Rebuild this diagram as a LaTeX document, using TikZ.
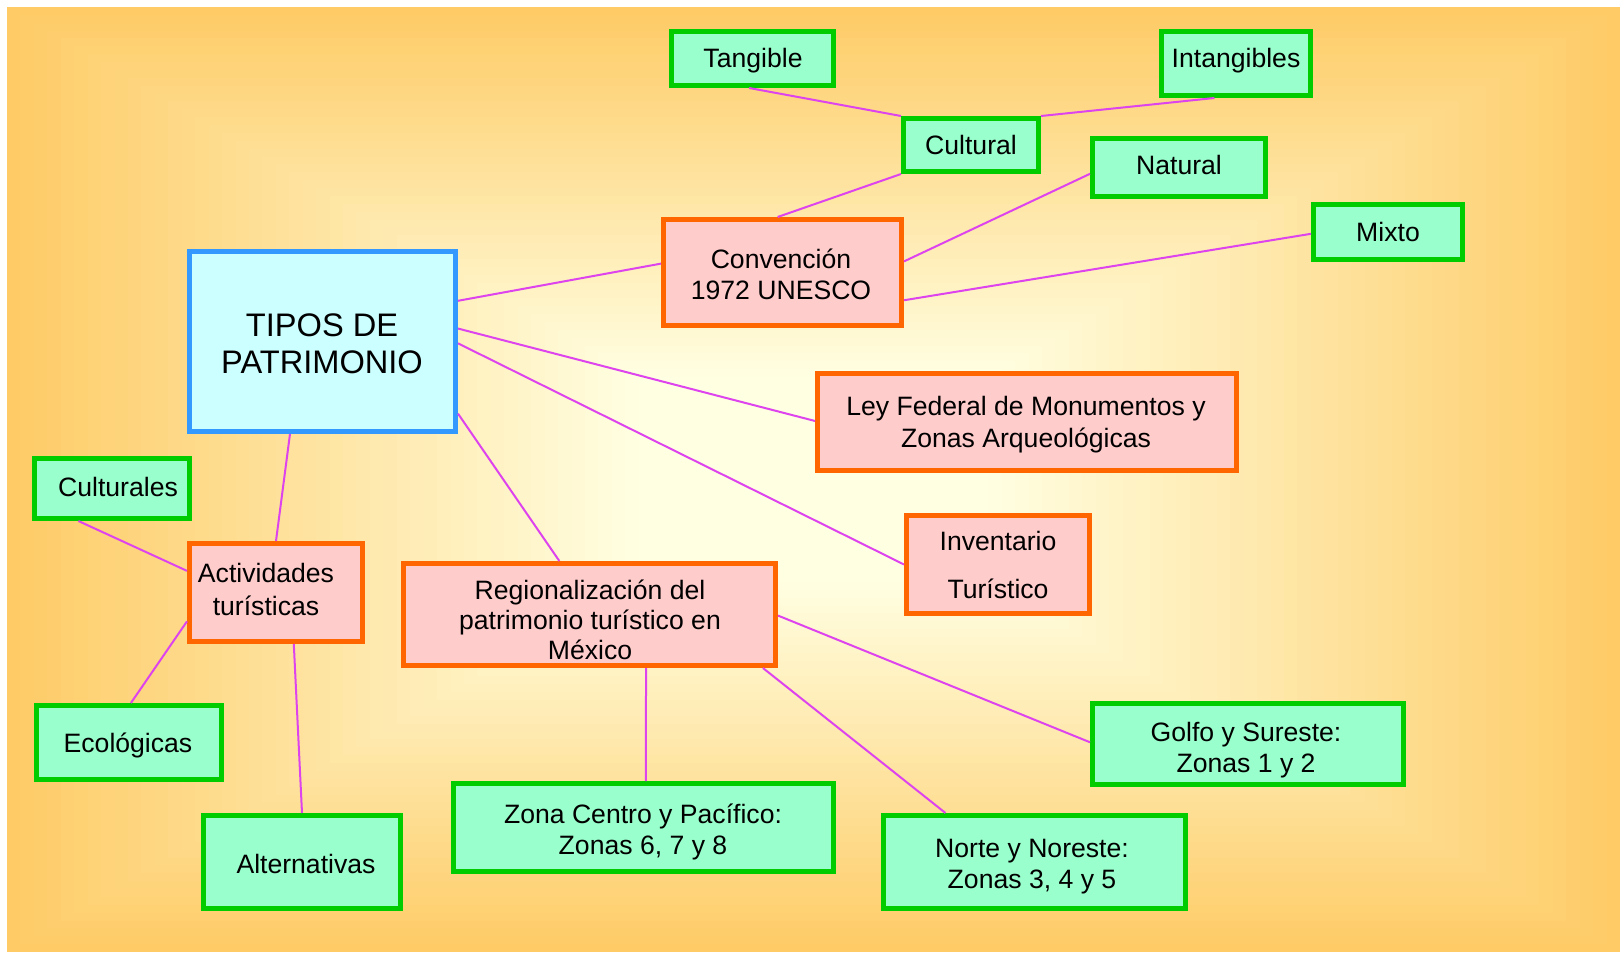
\documentclass[tikz,border=0pt]{standalone}
\usepackage{fontspec}
\setmainfont{Liberation Sans}
\usetikzlibrary{calc,fit}
\definecolor{bgorange}{HTML}{FECB66}
\definecolor{bgcream}{HTML}{FFFFE2}
\definecolor{gborder}{HTML}{00CC00}
\definecolor{gfill}{HTML}{99FFCC}
\definecolor{oborder}{HTML}{FF6600}
\definecolor{ofill}{HTML}{FFCCCC}
\definecolor{bborder}{HTML}{3399FF}
\definecolor{bfill}{HTML}{CCFFFF}
\definecolor{linkc}{RGB}{221,68,238}
\tikzset{
  greenbox/.style={draw=gborder,fill=gfill,line width=2.5pt,inner sep=0pt,rectangle},
  orangebox/.style={draw=oborder,fill=ofill,line width=2.5pt,inner sep=0pt,rectangle},
  bluebox/.style={draw=bborder,fill=bfill,line width=2.5pt,inner sep=0pt,rectangle},
  txt/.style={inner sep=0pt,align=center,font=\fontsize{13.3}{15.5}\selectfont,text=black},
  link/.style={draw=linkc,line width=1pt}
}
\begin{document}
\begin{tikzpicture}[x=0.5pt,y=-0.5pt]
\useasboundingbox (0,0) rectangle (1620,952);
% background gradient (rectangular, from centre)
\fill[white] (0,0) rectangle (1620,952);
\foreach \i in {0,...,59}{
  \pgfmathsetmacro\s{1-\i/60}
  \pgfmathsetmacro\p{max(0,min(100,(\s-0.22)/0.78*100))}
  \fill[bgorange!\p!bgcream] ({813.5-806.5*\s},{479.5-472.5*\s}) rectangle ({813.5+806.5*\s},{479.5+472.5*\s});
}
% boxes (outer edges inset by half the border)
\node[greenbox,fit={(671.5,31.5)(833.5,85.5)}] (tang) {};
\node[greenbox,fit={(1161.5,31.5)(1310.5,95.5)}] (intang) {};
\node[greenbox,fit={(903.5,118.5)(1038.5,171.5)}] (cult) {};
\node[greenbox,fit={(1092.5,138.5)(1265.5,196.5)}] (nat) {};
\node[greenbox,fit={(1313.5,204.5)(1462.5,259.5)}] (mixto) {};
\node[orangebox,fit={(663.5,219.5)(901.5,325.5)}] (conv) {};
\node[bluebox,fit={(189.5,251.5)(455.5,431.5)}] (tipos) {};
\node[orangebox,fit={(817.5,373.5)(1236.5,470.5)}] (ley) {};
\node[orangebox,fit={(906.5,515.5)(1089.5,613.5)}] (inv) {};
\node[greenbox,fit={(34.5,458.5)(189.5,518.5)}] (culturales) {};
\node[orangebox,fit={(189.5,543.5)(362.5,641.5)}] (activ) {};
\node[orangebox,fit={(403.5,563.5)(775.5,665.5)}] (region) {};
\node[greenbox,fit={(36.5,705.5)(221.5,779.5)}] (ecol) {};
\node[greenbox,fit={(203.5,815.5)(400.5,908.5)}] (altern) {};
\node[greenbox,fit={(453.5,783.5)(833.5,871.5)}] (zona) {};
\node[greenbox,fit={(883.5,815.5)(1185.5,908.5)}] (norte) {};
\node[greenbox,fit={(1092.5,703.5)(1403.5,784.5)}] (golfo) {};
% connectors
\draw[link] ($(tang.south west)!0.48!(tang.south east)$) -- (cult.north west);
\draw[link] ($(intang.south west)!0.36!(intang.south east)$) -- (cult.north east);
\draw[link] (cult.south west) -- ($(conv.north west)!0.48!(conv.north east)$);
\draw[link] ($(nat.north west)!0.6!(nat.south west)$) -- ($(conv.north east)!0.4!(conv.south east)$);
\draw[link] ($(mixto.north west)!0.53!(mixto.south west)$) -- ($(conv.north east)!0.75!(conv.south east)$);
\draw[link] ($(tipos.north east)!0.28!(tipos.south east)$) -- ($(conv.north west)!0.42!(conv.south west)$);
\draw[link] ($(tipos.north east)!0.43!(tipos.south east)$) -- ($(ley.north west)!0.49!(ley.south west)$);
\draw[link] ($(tipos.north east)!0.51!(tipos.south east)$) -- ($(inv.north west)!0.5!(inv.south west)$);
\draw[link] ($(tipos.north east)!0.89!(tipos.south east)$) -- ($(region.north west)!0.42!(region.north east)$);
\draw[link] ($(tipos.south west)!0.38!(tipos.south east)$) -- ($(activ.north west)!0.5!(activ.north east)$);
\draw[link] ($(culturales.south west)!0.29!(culturales.south east)$) -- ($(activ.north west)!0.29!(activ.south west)$);
\draw[link] ($(activ.north west)!0.78!(activ.south west)$) -- ($(ecol.north west)!0.51!(ecol.north east)$);
\draw[link] ($(activ.south west)!0.6!(activ.south east)$) -- ($(altern.north west)!0.5!(altern.north east)$);
\draw[link] ($(region.south west)!0.65!(region.south east)$) -- ($(zona.north west)!0.506!(zona.north east)$);
\draw[link] ($(region.south west)!0.96!(region.south east)$) -- ($(norte.north west)!0.21!(norte.north east)$);
\draw[link] ($(region.north east)!0.51!(region.south east)$) -- ($(golfo.north west)!0.48!(golfo.south west)$);
% texts
\node[txt] (t-tang) at (753,61) {Tangible};
\node[txt] (t-intang) at (1236,61) {Intangibles};
\node[txt] (t-cult) at (971,145) {Cultural};
\node[txt] (t-nat) at (1179,165) {Natural};
\node[txt] (t-mixto) at (1388,232) {Mixto};
\node[txt] (t-conv) at (781,274) {Convención\\1972 UNESCO};
\node[txt,font=\fontsize{16.3}{18.7}\selectfont] (t-tipos) at (322,344) {TIPOS DE\\PATRIMONIO};
\node[txt,font=\fontsize{13.3}{16}\selectfont] (t-ley) at (1026,425) {Ley Federal de Monumentos y\\Zonas Arqueológicas};
\node[txt] (t-inv) at (998,565) {Inventario\\[8.5pt]Turístico};
\node[txt] (t-culturales) at (118,487) {Culturales};
\node[txt,font=\fontsize{13.3}{16.5}\selectfont] (t-activ) at (266,589) {Actividades\\turísticas};
\node[txt,font=\fontsize{13.3}{15}\selectfont] (t-region) at (590,620) {Regionalización del\\patrimonio turístico en\\México};
\node[txt] (t-ecol) at (128,745) {Ecológicas};
\node[txt] (t-altern) at (306,864) {Alternativas};
\node[txt] (t-zona) at (643,832) {Zona Centro y Pacífico:\\Zonas 6, 7 y 8};
\node[txt] (t-norte) at (1032,867) {Norte y Noreste:\\Zonas 3, 4 y 5};
\node[txt] (t-golfo) at (1246,750) {Golfo y Sureste:\\Zonas 1 y 2};
\end{tikzpicture}
\end{document}
